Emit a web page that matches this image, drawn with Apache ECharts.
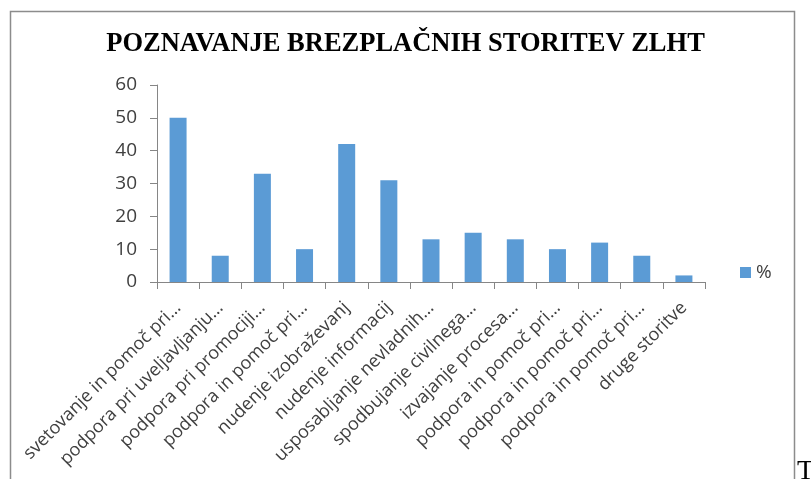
<!DOCTYPE html>
<html>
<head>
<meta charset="utf-8">
<script src="https://cdn.jsdelivr.net/npm/echarts@6/dist/echarts.min.js"></script>
<style>
  html, body { margin: 0; padding: 0; background: #fff; }
  #main { width: 811px; height: 479px; }
</style>
</head>
<body>
<div id="main"></div>
<script type="text/javascript">
var categories = [
  'svetovanje in pomoč pri…',
  'podpora pri uveljavljanju…',
  'podpora pri promociji…',
  'podpora in pomoč pri…',
  'nudenje izobraževanj',
  'nudenje informacij',
  'usposabljanje nevladnih…',
  'spodbujanje civilnega…',
  'izvajanje procesa…',
  'podpora in pomoč pri…',
  'podpora in pomoč pri…',
  'podpora in pomoč pri…',
  'druge storitve'
];
var percent = [50, 8, 33, 10, 42, 31, 13, 15, 13, 10, 12, 8, 2];
var yTicks = [0, 10, 20, 30, 40, 50, 60];

var chart = echarts.init(document.getElementById('main'));
var axisGray = '#868686';
var textColor = '#404040';

var option = {
  backgroundColor: '#fff',
  animation: false,
  title: {
    text: 'POZNAVANJE BREZPLAČNIH STORITEV ZLHT',
    left: 'center',
    top: 26,
    textStyle: {
      fontFamily: 'Liberation Serif',
      fontWeight: 'bold',
      fontSize: 26.5,
      color: '#000'
    }
  },
  legend: {
    data: ['%'],
    icon: 'rect',
    orient: 'vertical',
    left: 740,
    top: 263,
    padding: 0,
    itemWidth: 11,
    itemHeight: 11,
    itemGap: 5,
    textStyle: { fontFamily: 'Open Sans', fontSize: 19, color: textColor }
  },
  grid: { left: 157, right: 106, top: 85, bottom: 197, containLabel: false },
  xAxis: {
    type: 'category',
    data: categories,
    axisLine: { lineStyle: { color: axisGray, width: 1 } },
    axisTick: { show: true, length: 7, lineStyle: { color: axisGray } },
    axisLabel: {
      rotate: 45,
      interval: 0,
      margin: 23,
      fontFamily: 'Open Sans',
      fontSize: 18,
      color: textColor
    }
  },
  yAxis: {
    type: 'value',
    min: yTicks[0],
    max: yTicks[yTicks.length - 1],
    interval: 10,
    splitLine: { show: false },
    axisLine: { show: true, lineStyle: { color: axisGray, width: 1 } },
    axisTick: { show: true, length: 7, lineStyle: { color: axisGray } },
    axisLabel: {
      margin: 20,
      fontFamily: 'Open Sans',
      fontSize: 19,
      color: textColor
    }
  },
  series: [{
    name: '%',
    type: 'bar',
    data: percent,
    barWidth: 17,
    itemStyle: { color: '#5b9bd5' }
  }],
  graphic: [
    {
      type: 'rect',
      shape: { x: 10.5, y: 11.5, width: 784, height: 480 },
      style: { fill: 'none', stroke: '#8c8c8c', lineWidth: 1.5 },
      silent: true
    },
    {
      type: 'text',
      left: 797,
      top: 458,
      style: { text: 'T', fontFamily: 'Liberation Serif', fontSize: 28, fill: '#000' },
      silent: true
    }
  ]
};

chart.setOption(option);
</script>
</body>
</html>
